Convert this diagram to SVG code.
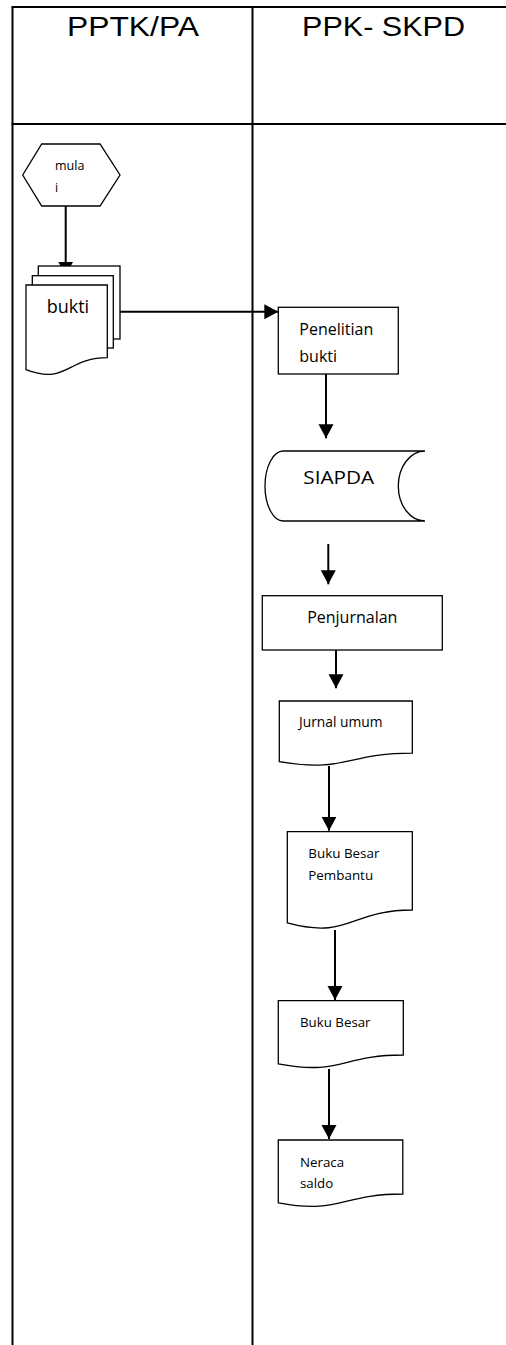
<svg xmlns="http://www.w3.org/2000/svg" width="506" height="1345" viewBox="0 0 506 1345">
<style>
.tbl{stroke:#000;stroke-width:2;fill:none}
.shape{fill:#fff;stroke:#000;stroke-width:1.3}
.conn{stroke:#000;stroke-width:2;fill:none}
.hdr{font-family:"Liberation Sans",Arial,sans-serif;font-size:28px;fill:#000}
.lbl{font-family:"Open Sans","Noto Sans",sans-serif;fill:#000}
</style>
<defs>
<marker id="arr" markerUnits="userSpaceOnUse" markerWidth="15" markerHeight="16" refX="14" refY="7.5" orient="auto">
<path d="M0,0 L14,7.5 L0,15 Z" fill="#000"/>
</marker>
</defs>
<rect width="506" height="1345" fill="#fff"/>
<g id="table">
<line class="tbl" x1="12.5" y1="7" x2="12.5" y2="1345"/>
<line class="tbl" x1="252.5" y1="7" x2="252.5" y2="1345"/>
<line class="tbl" x1="11.5" y1="7" x2="506" y2="7"/>
<line class="tbl" x1="11.5" y1="124" x2="506" y2="124"/>
<text class="hdr" x="133" y="36" text-anchor="middle" textLength="132" lengthAdjust="spacingAndGlyphs">PPTK/PA</text>
<text class="hdr" x="383.5" y="36" text-anchor="middle" textLength="163" lengthAdjust="spacingAndGlyphs">PPK- SKPD</text>
</g>
<g id="connectors">
<line class="conn" x1="65.7" y1="206" x2="65.7" y2="275.7" marker-end="url(#arr)"/>
<line class="conn" x1="111.7" y1="311.7" x2="278.3" y2="311.7" marker-end="url(#arr)"/>
<line class="conn" x1="326" y1="374" x2="326" y2="438.3" marker-end="url(#arr)"/>
<line class="conn" x1="328.3" y1="544" x2="328.3" y2="584.3" marker-end="url(#arr)"/>
<line class="conn" x1="336" y1="650" x2="336" y2="688.3" marker-end="url(#arr)"/>
<line class="conn" x1="329" y1="766" x2="329" y2="830.7" marker-end="url(#arr)"/>
<line class="conn" x1="335" y1="930" x2="335" y2="1000" marker-end="url(#arr)"/>
<line class="conn" x1="329" y1="1069" x2="329" y2="1139" marker-end="url(#arr)"/>
</g>
<g id="mulai">
<polygon class="shape" points="22.7,175 41.7,144 100,144 120,175 100,206 41.7,206"/>
<text class="lbl" x="55" y="170" font-size="12.5">mula</text>
<text class="lbl" x="55" y="192" font-size="12.5">i</text>
</g>
<g id="bukti">
<rect class="shape" x="38.3" y="266" width="81.7" height="73"/>
<rect class="shape" x="32.3" y="275.7" width="81" height="72.3"/>
<path class="shape" d="M26,285 H107.3 V357.7 C66.6,357.7 66.6,385.3 26,369.7 Z"/>
<text class="lbl" x="46.7" y="313" font-size="18">bukti</text>
</g>
<g id="penelitian">
<rect class="shape" x="278.3" y="307.3" width="120" height="66.7"/>
<text class="lbl" x="299.3" y="335" font-size="16">Penelitian</text>
<text class="lbl" x="299.3" y="361.7" font-size="16">bukti</text>
</g>
<g id="siapda">
<path class="shape" d="M283.3,451 H425 A26.7,35 0 0 0 425,521 H283.3 A18.3,35 0 0 1 283.3,451 Z"/>
<text class="lbl" x="303.3" y="484.3" font-size="19" textLength="70.7" lengthAdjust="spacingAndGlyphs">SIAPDA</text>
</g>
<g id="penjurnalan">
<rect class="shape" x="262.3" y="595.7" width="180" height="54.3"/>
<text class="lbl" x="352.3" y="623.3" font-size="16" text-anchor="middle">Penjurnalan</text>
</g>
<g id="jurnal-umum">
<path class="shape" d="M279.3,701 H412.3 V753.1 C345.8,753.1 345.8,773 279.3,761.7 Z"/>
<text class="lbl" x="299" y="727.3" font-size="13.8">Jurnal umum</text>
</g>
<g id="buku-besar-pembantu">
<path class="shape" d="M287.3,831.7 H412.3 V910 C349.8,910 349.8,939.8 287.3,922.9 Z"/>
<text class="lbl" x="308.3" y="858.3" font-size="13.4">Buku Besar</text>
<text class="lbl" x="308.3" y="880" font-size="13.4">Pembantu</text>
</g>
<g id="buku-besar">
<path class="shape" d="M278.3,1000.7 H403.3 V1055 C340.8,1055 340.8,1075.7 278.3,1063.9 Z"/>
<text class="lbl" x="300" y="1026.7" font-size="13.3">Buku Besar</text>
</g>
<g id="neraca-saldo">
<path class="shape" d="M278.3,1140 H402.8 V1194 C340.5,1194 340.5,1214.5 278.3,1202.9 Z"/>
<text class="lbl" x="300" y="1166.7" font-size="13.3">Neraca</text>
<text class="lbl" x="300" y="1188.3" font-size="13.3">saldo</text>
</g>
</svg>
